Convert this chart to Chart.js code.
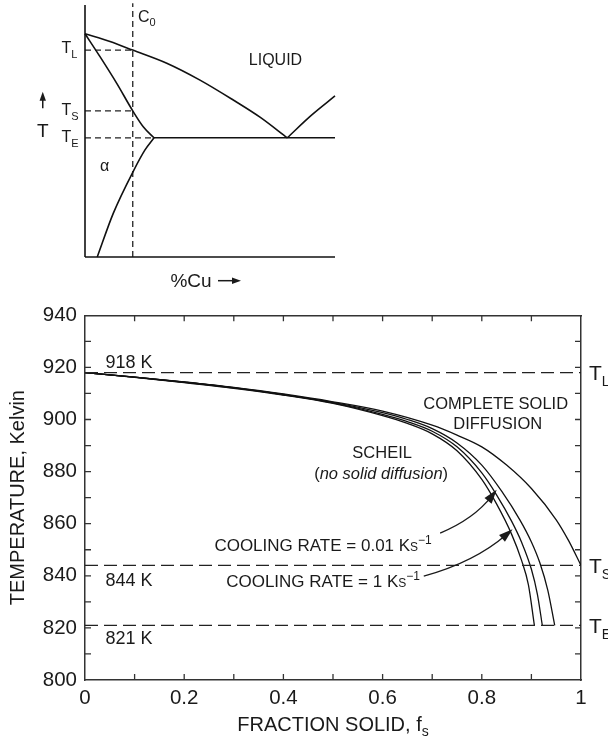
<!DOCTYPE html>
<html lang="en">
<head>
  <meta charset="UTF-8">
  <title>Fraction solid vs temperature</title>
  <script src="https://cdn.jsdelivr.net/npm/chart.js"></script>
  <style>
    body { margin: 0; background: #fff; }
    #wrap { position: relative; width: 608px; height: 741px; }
    canvas { position: absolute; left: 0; }
    #phase { top: 0; }
    #main { top: 295px; }
  </style>
</head>
<body>
<div id="wrap">
  <canvas id="phase" width="350" height="295"></canvas>
  <canvas id="main" width="608" height="446"></canvas>
</div>
<script>
  const FONT = "'Liberation Sans', Arial, Helvetica, sans-serif";
  const INK = '#1a1a1a';

  // ---- main chart data: temperature (K) vs fraction solid ----
  const fsTicks = [0, 0.2, 0.4, 0.6, 0.8, 1];
  const fsMinor = [0.1, 0.2, 0.3, 0.4, 0.5, 0.6, 0.7, 0.8, 0.9];
  const tempTicks = [800, 820, 840, 860, 880, 900, 920, 940];
  const tempMinor = [810, 820, 830, 840, 850, 860, 870, 880, 890, 900, 910, 920, 930];
  const refTemps = [918, 844, 821];        // T_L, T_S, T_E
  const refNames = ['L', 'S', 'E'];

  // complete solid diffusion (lever rule)
  const eqFs = [0, 0.1, 0.2, 0.3, 0.4, 0.5, 0.6, 0.7, 0.75, 0.8, 0.85, 0.9, 0.95, 0.975, 1.0];
  const eqT  = [918, 916.3, 914.4, 912.3, 909.8, 906.8, 903.2, 897.8, 894, 889.5, 882.5, 873.5, 861.5, 853.5, 844];
  // Scheil, no solid diffusion
  const scheilFs = [0, 0.1, 0.2, 0.3, 0.4, 0.5, 0.6, 0.65, 0.7, 0.75, 0.8, 0.83, 0.86, 0.88, 0.894, 0.906];
  const scheilT  = [918, 916.2, 914.2, 912, 909.4, 906.2, 901.5, 898.5, 894.5, 888, 877, 867.5, 856, 846, 836.5, 821];
  // cooling rate 1 K/s
  const fastFs = [0, 0.1, 0.2, 0.3, 0.4, 0.5, 0.6, 0.65, 0.7, 0.75, 0.8, 0.83, 0.86, 0.88, 0.9, 0.912, 0.922];
  const fastT  = [918, 916.25, 914.3, 912.1, 909.5, 906.4, 902, 899.2, 895.5, 889.5, 879.5, 871, 861, 853, 842.5, 833, 821];
  // cooling rate 0.01 K/s
  const slowFs = [0, 0.1, 0.2, 0.3, 0.4, 0.5, 0.6, 0.65, 0.7, 0.75, 0.8, 0.84, 0.877, 0.9, 0.917, 0.933, 0.947];
  const slowT  = [918, 916.3, 914.35, 912.2, 909.6, 906.6, 902.6, 900, 896.5, 891, 882.5, 872.5, 861.4, 853, 845, 834.5, 821];

  // ---- schematic phase diagram (arbitrary units 0..100) ----
  const liqX  = [0, 10, 19.1, 32.7, 46, 59.3, 70, 80.9];
  const liqY  = [88.6, 85.5, 82.1, 76.9, 70.2, 62.3, 55.5, 47.3];
  const liq2X = [80.9, 90.5, 100];
  const liq2Y = [47.3, 56.2, 63.9];
  const solX  = [0, 6, 12.7, 19.1, 23.3, 27.6];
  const solY  = [88.6, 79.5, 68.9, 58, 51.7, 47.3];
  const solvX = [4.9, 11.3, 19.3, 24, 27.6];
  const solvY = [0, 17.3, 34, 42.5, 47.3];
  const eutX  = [27.6, 100];
  const c0 = 19.1;
  const pdTL = 82.1, pdTS = 58, pdTE = 47.3;

  const pts = (xs, ys) => xs.map((v, i) => ({x: v, y: ys[i]}));

  // draw a run of text pieces (sub/superscripts), y = centre of the capitals
  function rich(ctx, parts, x, y, align) {
    const base = y + parts[0].size * 0.36;
    let w = 0;
    const fontOf = p => (p.italic ? 'italic ' : '') + p.size + 'px ' + FONT;
    parts.forEach(p => { ctx.font = fontOf(p); p.w = ctx.measureText(p.t).width; w += p.w; });
    let cx = align === 'center' ? x - w / 2 : (align === 'right' ? x - w : x);
    ctx.textAlign = 'left';
    ctx.textBaseline = 'alphabetic';
    parts.forEach(p => {
      ctx.font = fontOf(p);
      ctx.fillText(p.t, cx, base - (p.rise || 0));
      cx += p.w;
    });
  }

  function arrowHead(ctx, tipX, tipY, ang, len, half) {
    ctx.beginPath();
    ctx.moveTo(tipX, tipY);
    ctx.lineTo(tipX - len * Math.cos(ang) + half * Math.sin(ang), tipY - len * Math.sin(ang) - half * Math.cos(ang));
    ctx.lineTo(tipX - len * Math.cos(ang) - half * Math.sin(ang), tipY - len * Math.sin(ang) + half * Math.cos(ang));
    ctx.closePath();
    ctx.fill();
  }

  // ---------------- main chart ----------------
  const mainNotes = [
    {parts: [{t: '918 K', size: 18}], at: [0.0887, 922.2], align: 'center'},
    {parts: [{t: '844 K', size: 18}], at: [0.0887, 838.4], align: 'center'},
    {parts: [{t: '821 K', size: 18}], at: [0.0887, 816.3], align: 'center'},
    {parts: [{t: 'COMPLETE SOLID', size: 16.5}], at: [0.828, 906.3], align: 'center'},
    {parts: [{t: 'DIFFUSION', size: 16.5}], at: [0.832, 898.7], align: 'center'},
    {parts: [{t: 'SCHEIL', size: 16.5}], at: [0.599, 887.5], align: 'center'},
    {parts: [{t: '(', size: 16.5}, {t: 'no solid diffusion', size: 16.5, italic: true}, {t: ')', size: 16.5}],
      at: [0.597, 879.4], align: 'center'},
    {parts: [{t: 'COOLING RATE = 0.01 K', size: 17}, {t: 'S', size: 12}, {t: '\u22121', size: 12, rise: 7}],
      at: [0.48, 851.8], align: 'center'},
    {parts: [{t: 'COOLING RATE = 1 K', size: 17}, {t: 'S', size: 12}, {t: '\u22121', size: 12, rise: 7}],
      at: [0.48, 838.2], align: 'center'}
  ];
  const mainArrows = [
    {from: [0.716, 856.4], ctrl: [0.784, 861.8], to: [0.830, 873]},
    {from: [0.683, 839.9], ctrl: [0.786, 845.3], to: [0.862, 857.9]}
  ];

  const mainDecor = {
    id: 'mainDecor',
    afterDatasetsDraw(chart) {
      const {ctx, chartArea: a, scales: {x, y}} = chart;
      ctx.save();
      ctx.strokeStyle = '#333';
      ctx.lineWidth = 1.3;
      ctx.beginPath();
      fsMinor.forEach(v => {
        const px = x.getPixelForValue(v);
        ctx.moveTo(px, a.bottom); ctx.lineTo(px, a.bottom - 6);
        ctx.moveTo(px, a.top); ctx.lineTo(px, a.top + 6);
      });
      tempMinor.forEach(v => {
        const py = y.getPixelForValue(v);
        ctx.moveTo(a.left, py); ctx.lineTo(a.left + 6, py);
        ctx.moveTo(a.right, py); ctx.lineTo(a.right - 6, py);
      });
      ctx.stroke();

      ctx.fillStyle = INK;
      mainNotes.forEach(n => rich(ctx, n.parts, x.getPixelForValue(n.at[0]), y.getPixelForValue(n.at[1]), n.align));

      refTemps.forEach((t, i) => {
        rich(ctx, [{t: 'T', size: 21}, {t: refNames[i], size: 14, rise: -6}], a.right + 8, y.getPixelForValue(t), 'left');
      });

      rich(ctx, [{t: 'FRACTION SOLID, f', size: 20}, {t: 's', size: 14, rise: -5}],
        (a.left + a.right) / 2, a.bottom + 44, 'center');

      ctx.strokeStyle = INK;
      ctx.lineWidth = 1.3;
      mainArrows.forEach(ar => {
        const p0 = [x.getPixelForValue(ar.from[0]), y.getPixelForValue(ar.from[1])];
        const pc = [x.getPixelForValue(ar.ctrl[0]), y.getPixelForValue(ar.ctrl[1])];
        const p1 = [x.getPixelForValue(ar.to[0]), y.getPixelForValue(ar.to[1])];
        const ang = Math.atan2(p1[1] - pc[1], p1[0] - pc[0]);
        ctx.beginPath();
        ctx.moveTo(p0[0], p0[1]);
        ctx.quadraticCurveTo(pc[0], pc[1], p1[0] - 8 * Math.cos(ang), p1[1] - 8 * Math.sin(ang));
        ctx.stroke();
        arrowHead(ctx, p1[0], p1[1], ang, 14, 4.5);
      });
      ctx.restore();
    }
  };

  const lineDs = (data) => ({
    data, borderColor: '#111', borderWidth: 1.3, pointRadius: 0,
    showLine: true, fill: false, cubicInterpolationMode: 'monotone'
  });
  const dashDs = (data) => ({
    data, borderColor: '#222', borderWidth: 1.3, pointRadius: 0,
    showLine: true, fill: false, borderDash: [13, 6]
  });

  const tickFont = {family: FONT, size: 20.5};
  const frame = {display: true, color: '#333', width: 1.5};

  new Chart(document.getElementById('main'), {
    type: 'scatter',
    data: {
      datasets: [
        ...refTemps.map(t => dashDs([{x: 0, y: t}, {x: 1, y: t}])),
        lineDs(pts(eqFs, eqT)),
        lineDs(pts(scheilFs, scheilT)),
        lineDs(pts(fastFs, fastT)),
        lineDs(pts(slowFs, slowT))
      ]
    },
    options: {
      responsive: false,
      animation: false,
      events: [],
      layout: {padding: 0},
      plugins: {legend: {display: false}, tooltip: {enabled: false}},
      scales: {
        x: {
          type: 'linear', position: 'bottom', min: 0, max: 1,
          afterBuildTicks: s => { s.ticks = fsTicks.map(v => ({value: v})); },
          ticks: {font: tickFont, color: INK, padding: 6, maxRotation: 0, callback: v => String(v)},
          grid: {display: false, drawTicks: false},
          border: frame,
          afterFit: s => { s.height = 61; }
        },
        xT: {
          type: 'linear', position: 'top', min: 0, max: 1,
          ticks: {display: false},
          grid: {display: false, drawTicks: false},
          border: frame,
          afterFit: s => { s.height = 20; }
        },
        y: {
          type: 'linear', position: 'left', min: 800, max: 940,
          afterBuildTicks: s => { s.ticks = tempTicks.map(v => ({value: v})); },
          ticks: {font: tickFont, color: INK, padding: 8},
          grid: {display: false, drawTicks: false},
          border: frame,
          title: {display: true, text: 'TEMPERATURE, Kelvin', color: INK,
            font: {family: FONT, size: 20}, padding: {top: 6, bottom: 0}},
          afterFit: s => { s.width = 85; }
        },
        yR: {
          type: 'linear', position: 'right', min: 800, max: 940,
          ticks: {display: false},
          grid: {display: false, drawTicks: false},
          border: frame,
          afterFit: s => { s.width = 27; }
        }
      }
    },
    plugins: [mainDecor]
  });

  // ---------------- phase diagram ----------------
  const phaseNotes = [
    {parts: [{t: 'LIQUID', size: 16}], at: [76.2, 78.6], align: 'center'},
    {parts: [{t: '\u03b1', size: 16}], at: [7.8, 36.3], align: 'center'},
    {parts: [{t: 'C', size: 16}, {t: '0', size: 11, rise: -4}], at: [21.2, 95.4], align: 'left'},
    {parts: [{t: 'T', size: 16}, {t: 'L', size: 11, rise: -5}], at: [-9.4, 83.1], align: 'left'},
    {parts: [{t: 'T', size: 16}, {t: 'S', size: 11, rise: -5}], at: [-9.4, 58.7], align: 'left'},
    {parts: [{t: 'T', size: 16}, {t: 'E', size: 11, rise: -5}], at: [-9.4, 48.0], align: 'left'},
    {parts: [{t: 'T', size: 19}], at: [-16.9, 50.2], align: 'center'},
    {parts: [{t: '%Cu', size: 19}], at: [42.4, -9.1], align: 'center'}
  ];

  const phaseDecor = {
    id: 'phaseDecor',
    afterDatasetsDraw(chart) {
      const {ctx, scales: {x, y}} = chart;
      ctx.save();
      ctx.fillStyle = INK;
      phaseNotes.forEach(n => rich(ctx, n.parts, x.getPixelForValue(n.at[0]), y.getPixelForValue(n.at[1]), n.align));
      ctx.strokeStyle = INK;
      ctx.lineWidth = 1.5;
      // up arrow next to T
      const ux = x.getPixelForValue(-16.9);
      const uTip = y.getPixelForValue(65.6), uTail = y.getPixelForValue(59.0);
      ctx.beginPath(); ctx.moveTo(ux, uTail); ctx.lineTo(ux, uTip + 6); ctx.stroke();
      arrowHead(ctx, ux, uTip, -Math.PI / 2, 9, 3.2);
      // right arrow after %Cu
      const ry = y.getPixelForValue(-9.4);
      const r0 = x.getPixelForValue(53.2), r1 = x.getPixelForValue(62.4);
      ctx.beginPath(); ctx.moveTo(r0, ry); ctx.lineTo(r1 - 6, ry); ctx.stroke();
      arrowHead(ctx, r1, ry, 0, 9, 3.2);
      ctx.restore();
    }
  };

  const pdLine = (data, mono) => ({
    data, borderColor: '#111', borderWidth: 1.6, pointRadius: 0, showLine: true, fill: false,
    clip: false, cubicInterpolationMode: mono ? 'monotone' : 'default'
  });
  const pdDash = (data) => ({
    data, borderColor: '#222', borderWidth: 1.3, pointRadius: 0, showLine: true, fill: false,
    clip: false, borderDash: [6, 4]
  });

  new Chart(document.getElementById('phase'), {
    type: 'scatter',
    data: {
      datasets: [
        pdLine([{x: 0, y: 0}, {x: 0, y: 100}]),
        pdLine([{x: 0, y: 0}, {x: 100, y: 0}]),
        pdLine(pts(liqX, liqY), true),
        pdLine(pts(liq2X, liq2Y), true),
        pdLine(pts(solX, solY), true),
        pdLine(pts(solvX, solvY), true),
        pdLine(pts(eutX, [pdTE, pdTE])),
        pdDash([{x: c0, y: 0}, {x: c0, y: 100.7}]),
        pdDash([{x: 0, y: pdTL}, {x: c0, y: pdTL}]),
        pdDash([{x: 0, y: pdTS}, {x: c0, y: pdTS}]),
        pdDash([{x: 0, y: pdTE}, {x: eutX[0], y: pdTE}])
      ]
    },
    options: {
      responsive: false,
      animation: false,
      events: [],
      layout: {padding: {left: 85, right: 15, top: 5, bottom: 38}},
      plugins: {legend: {display: false}, tooltip: {enabled: false}},
      scales: {
        x: {type: 'linear', display: false, min: 0, max: 100},
        y: {type: 'linear', display: false, min: 0, max: 100}
      }
    },
    plugins: [phaseDecor]
  });
</script>
</body>
</html>
